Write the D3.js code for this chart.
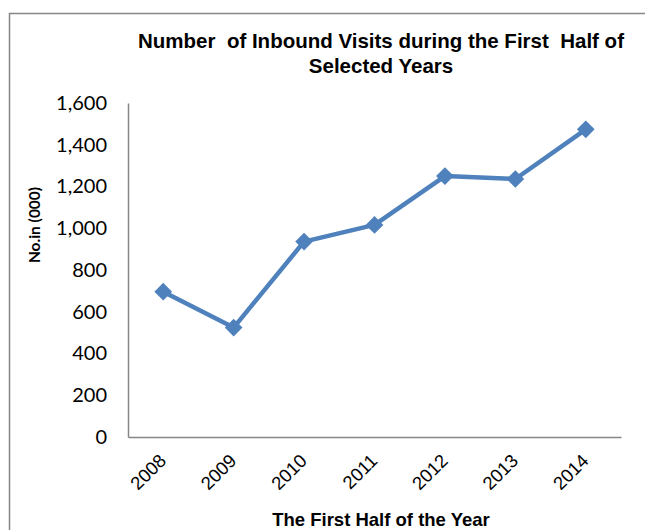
<!DOCTYPE html>
<html>
<head>
<meta charset="utf-8">
<script src="https://cdn.jsdelivr.net/npm/d3@7"></script>
<style>
  body { margin: 0; background: #fff; overflow: hidden; }
  #chart svg { display: block; }
</style>
</head>
<body>
<div id="chart"></div>
<script>
// data
var years = ["2008", "2009", "2010", "2011", "2012", "2013", "2014"];
var visits = [696, 524, 936, 1016, 1250, 1236, 1474];
var yTicks = [0, 200, 400, 600, 800, 1000, 1200, 1400, 1600];

var W = 645, H = 530;
var margin = {top: 103, right: 24, bottom: 93, left: 128};
var width = W - margin.left - margin.right,
    height = H - margin.top - margin.bottom;

var svg = d3.select("#chart").append("svg")
    .attr("width", W)
    .attr("height", H);

// chart frame: only top and left edges fall inside the image
svg.append("path")
    .attr("d", "M9.5," + H + "V13.5H" + W)
    .attr("fill", "none")
    .attr("stroke", "#868686")
    .attr("stroke-width", 1.5);

var g = svg.append("g")
    .attr("transform", "translate(" + margin.left + "," + margin.top + ")");

var x = d3.scaleBand()
    .domain(years)
    .range([0, width]);
var y = d3.scaleLinear()
    .domain([0, 1600])
    .range([height, 0]);

// y axis
var yAxis = d3.axisLeft(y)
    .tickValues(yTicks)
    .tickSize(0)
    .tickPadding(21)
    .tickFormat(d3.format(","));
var yGroup = g.append("g").call(yAxis);
yGroup.select(".domain").attr("stroke", "#868686").attr("stroke-width", 1.5);
yGroup.selectAll("text")
    .attr("font-family", "Lato, 'Open Sans', sans-serif")
    .attr("font-size", 20)
    .attr("fill", "#000");

// x axis
var xAxis = d3.axisBottom(x).tickSize(0).tickPadding(0);
var xGroup = g.append("g")
    .attr("transform", "translate(0," + height + ")")
    .call(xAxis);
xGroup.select(".domain").attr("stroke", "#868686").attr("stroke-width", 1.5);
xGroup.selectAll("text")
    .attr("font-family", "'Liberation Sans', Arial, sans-serif")
    .attr("font-size", 18.5)
    .attr("fill", "#000")
    .attr("text-anchor", "end")
    .attr("y", 0)
    .attr("dy", 0)
    .attr("transform", "translate(4,25) rotate(-45)");

// line
var line = d3.line()
    .x(function(d, i) { return x(years[i]) + x.bandwidth() / 2; })
    .y(function(d) { return y(d); });

g.append("path")
    .datum(visits)
    .attr("d", line)
    .attr("fill", "none")
    .attr("stroke", "#4F81BD")
    .attr("stroke-width", 4.5)
    .attr("stroke-linejoin", "round");

g.selectAll("path.marker")
    .data(visits)
  .enter().append("path")
    .attr("class", "marker")
    .attr("d", d3.symbol().type(d3.symbolDiamond2).size(200))
    .attr("transform", function(d, i) {
      return "translate(" + (x(years[i]) + x.bandwidth() / 2) + "," + y(d) + ")";
    })
    .attr("fill", "#4F81BD");

// titles
var title = svg.append("text")
    .attr("text-anchor", "middle")
    .attr("font-family", "'Liberation Sans', Arial, sans-serif")
    .attr("font-weight", "bold")
    .attr("font-size", 20.5)
    .attr("fill", "#000")
    .style("white-space", "pre");
title.append("tspan").attr("x", 381).attr("y", 48)
    .text("Number  of Inbound Visits during the First  Half of");
title.append("tspan").attr("x", 381).attr("y", 73)
    .text("Selected Years");

svg.append("text")
    .attr("x", 381).attr("y", 526)
    .attr("text-anchor", "middle")
    .attr("font-family", "'Liberation Sans', Arial, sans-serif")
    .attr("font-weight", "bold")
    .attr("font-size", 18.5)
    .attr("fill", "#000")
    .text("The First Half of the Year");

svg.append("text")
    .attr("transform", "translate(40,225) rotate(-90)")
    .attr("text-anchor", "middle")
    .attr("font-family", "Lato, 'Open Sans', sans-serif")
    .attr("font-weight", "bold")
    .attr("font-size", 15.5)
    .attr("fill", "#000")
    .text("No.in (000)");
</script>
</body>
</html>
